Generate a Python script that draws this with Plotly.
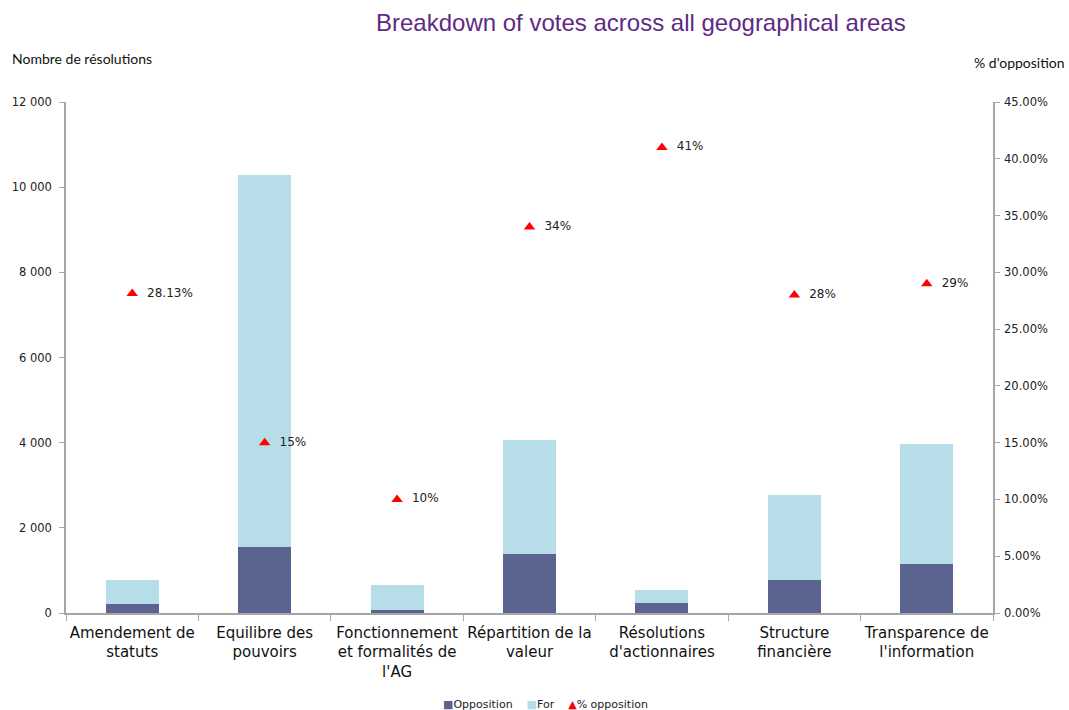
import plotly.graph_objects as go

# Resolution themes and vote counts
categories = [
    "Amendement de<br>statuts",
    "Equilibre des<br>pouvoirs",
    "Fonctionnement<br>et formalités de<br>l'AG",
    "Répartition de la<br>valeur",
    "Résolutions<br>d'actionnaires",
    "Structure<br>financière",
    "Transparence de<br>l'information",
]
opposition = [215, 1560, 68, 1385, 225, 775, 1150]
for_votes = [560, 8730, 590, 2680, 315, 1995, 2820]
pct_opposition = [28.13, 15, 10, 34, 41, 28, 29]
pct_labels = ["28.13%", "15%", "10%", "34%", "41%", "28%", "29%"]

FONT = "DejaVu Sans"
AXIS_GREY = "#a6a6a6"
COL_OPP = "#5b6490"
COL_FOR = "#b7dde8"
COL_PCT = "#ff0000"

fig = go.Figure()
fig.add_trace(go.Bar(
    x=categories, y=opposition, name="Opposition",
    marker=dict(color=COL_OPP, line=dict(width=0)),
))
fig.add_trace(go.Bar(
    x=categories, y=for_votes, name="For",
    marker=dict(color=COL_FOR, line=dict(width=0)),
))
fig.add_trace(go.Scatter(
    x=categories, y=pct_opposition, name="% opposition", yaxis="y2",
    mode="markers+text",
    marker=dict(symbol="triangle-up", color=COL_PCT, size=10),
    text=["  " + t for t in pct_labels], textposition="middle right",
    textfont=dict(family=FONT, size=12, color="#222222"),
    cliponaxis=False,
))

# Compact legend line: small symbol glyph directly before each series name
sp = "\u00a0" * 4
legend_text = sp.join(
    f"<span style='color:{c}'>{g}</span>{tr.name}"
    for tr, c, g in zip(fig.data, [COL_OPP, COL_FOR, COL_PCT], ["■", "■", "▲"])
)

fig.update_layout(
    width=1069, height=710,
    margin=dict(l=66, r=76, t=102, b=97, autoexpand=False),
    paper_bgcolor="white", plot_bgcolor="white",
    barmode="stack", bargap=0.6,
    separators=". ",
    font=dict(family=FONT, color="#222222"),
    showlegend=False,
    xaxis=dict(
        type="category", tickson="boundaries", ticks="outside", ticklen=6,
        tickcolor=AXIS_GREY, showline=True, linecolor=AXIS_GREY, linewidth=1.5,
        showgrid=False, tickangle=0, automargin=False, ticklabelstandoff=5,
        tickfont=dict(family=FONT, size=15, color="#111111"),
        range=[-0.5, 6.5],
    ),
    yaxis=dict(
        range=[0, 12000], tickvals=list(range(0, 12001, 2000)), tickformat=",d",
        ticks="outside", ticklen=5, tickcolor=AXIS_GREY,
        showline=True, linecolor=AXIS_GREY, linewidth=1.5,
        showgrid=False, zeroline=False, automargin=False, ticklabelstandoff=5,
        tickfont=dict(family=FONT, size=11.5, color="#222222"),
    ),
    yaxis2=dict(
        overlaying="y", side="right", range=[0, 45], dtick=5,
        tickformat=".2f", ticksuffix="%",
        ticks="outside", ticklen=5, tickcolor=AXIS_GREY,
        showline=True, linecolor=AXIS_GREY, linewidth=1.5,
        showgrid=False, zeroline=False, automargin=False, ticklabelstandoff=2,
        tickfont=dict(family=FONT, size=11.5, color="#222222"),
    ),
    annotations=[
        dict(text="Breakdown of votes across all geographical areas",
             x=641, y=22, showarrow=False, xanchor="center", yanchor="middle",
             font=dict(family="Liberation Sans", size=24, color="#5f2a84")),
        dict(text="Nombre de résolutions", x=10, y=59, showarrow=False,
             xanchor="left", yanchor="middle",
             font=dict(family="Lato", size=14, color="#111111")),
        dict(text="% d'opposition", x=1067, y=62, showarrow=False,
             xanchor="right", yanchor="middle",
             font=dict(family="Lato", size=14, color="#111111")),
        dict(text=legend_text, x=545, y=704, showarrow=False,
             xanchor="center", yanchor="middle",
             font=dict(family=FONT, size=11, color="#222222")),
    ],
)

# Header and legend texts are positioned in page pixels; convert to paper coordinates.
plot_w = 1069 - 66 - 76
plot_h = 710 - 102 - 97
for ann in fig.layout.annotations:
    px, py = ann.x, ann.y
    ann.x = (px - 66) / plot_w
    ann.y = (710 - 97 - py) / plot_h
    ann.xref = "paper"
    ann.yref = "paper"

fig.write_html("out.html")
